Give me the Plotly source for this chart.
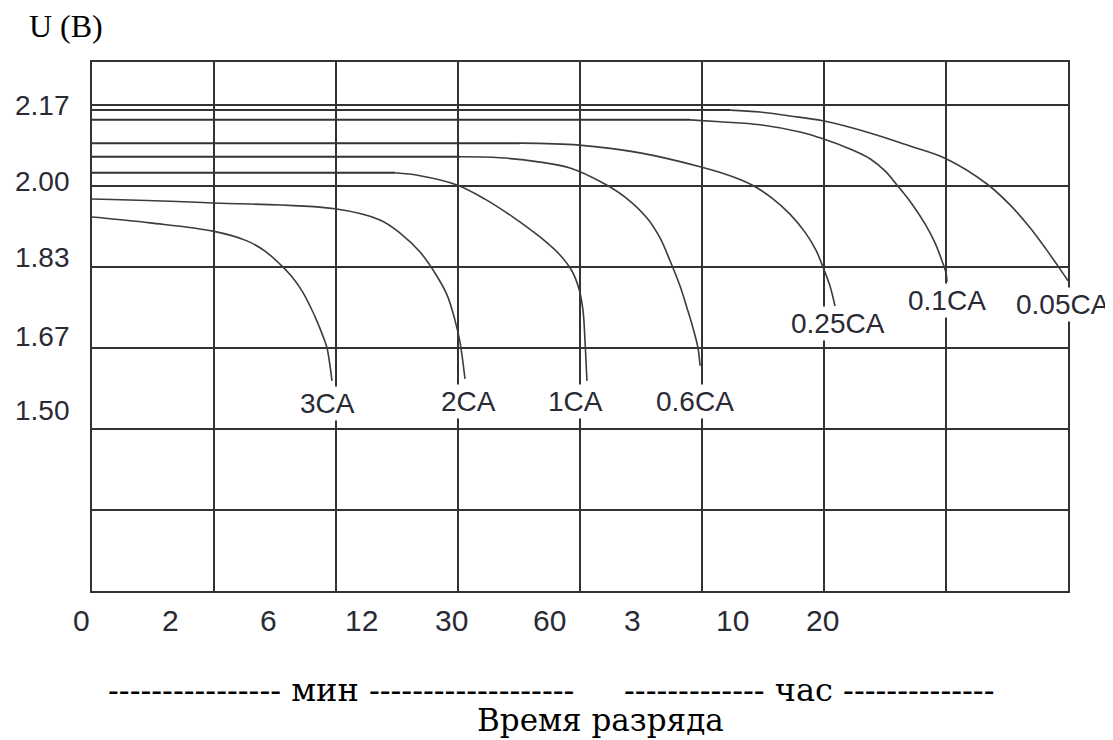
import plotly.graph_objects as go

# ---- data (x in grid-column units of the time scale, y in volts) ----
c005_t = [0, 5.23, 5.475, 5.72, 5.992, 6.377, 6.705, 7.0, 7.336, 7.525, 7.689, 7.820, 7.918, 8.0]
c005_u = [2.156, 2.156, 2.152, 2.144, 2.134, 2.109, 2.082, 2.056, 2.004, 1.961, 1.914, 1.870, 1.835, 1.805]

c01_t = [0, 4.902, 5.148, 5.475, 5.803, 5.992, 6.213, 6.377, 6.5, 6.598, 6.721, 6.828, 6.91, 6.967, 7.0, 7.008]
c01_u = [2.136, 2.136, 2.132, 2.126, 2.111, 2.097, 2.076, 2.056, 2.031, 2.002, 1.963, 1.922, 1.883, 1.846, 1.821, 1.803]

c025_t = [0, 3.508, 3.992, 4.492, 4.992, 5.23, 5.41, 5.574, 5.721, 5.844, 5.934, 5.992, 6.049, 6.09]
c025_u = [2.088, 2.088, 2.084, 2.068, 2.039, 2.021, 2.002, 1.975, 1.942, 1.905, 1.868, 1.833, 1.794, 1.753]

c06_t = [0, 3.016, 3.344, 3.672, 3.918, 4.189, 4.369, 4.549, 4.656, 4.738, 4.82, 4.877, 4.926, 4.967, 4.984]
c06_u = [2.060, 2.060, 2.058, 2.049, 2.037, 2.006, 1.977, 1.934, 1.893, 1.846, 1.794, 1.749, 1.708, 1.667, 1.630]

c1_t = [0, 2.484, 2.689, 2.992, 3.221, 3.451, 3.672, 3.836, 3.934, 3.992, 4.025, 4.041, 4.057]
c1_u = [2.027, 2.027, 2.021, 2.002, 1.973, 1.936, 1.895, 1.858, 1.825, 1.788, 1.743, 1.681, 1.599]

c2_t = [0, 0.992, 1.992, 2.361, 2.525, 2.689, 2.811, 2.91, 2.975, 3.016, 3.057]
c2_u = [1.973, 1.965, 1.953, 1.930, 1.903, 1.864, 1.821, 1.776, 1.724, 1.679, 1.603]

c3_t = [0, 0.475, 0.992, 1.27, 1.418, 1.541, 1.639, 1.721, 1.787, 1.844, 1.893, 1.926, 1.951, 1.967]
c3_u = [1.936, 1.924, 1.907, 1.887, 1.866, 1.839, 1.813, 1.784, 1.753, 1.722, 1.691, 1.667, 1.630, 1.599]

curve_names = ["0.05CA", "0.1CA", "0.25CA", "0.6CA", "1CA", "2CA", "3CA"]
curve_t = [c005_t, c01_t, c025_t, c06_t, c1_t, c2_t, c3_t]
curve_u = [c005_u, c01_u, c025_u, c06_u, c1_u, c2_u, c3_u]
flat_points = [2, 2, 2, 2, 2, 0, 0]   # leading straight segment drawn dark

label_t = [7.959, 7.008, 6.115, 4.943, 3.959, 3.090, 1.934]
label_u = [1.757, 1.765, 1.716, 1.556, 1.556, 1.556, 1.553]

x_tick_text = ["0", "2", "6", "12", "30", "60", "3", "10", "20"]
x_tick_pos = [-0.09, 0.64, 1.45, 2.21, 2.95, 3.75, 4.43, 5.25, 5.99]
X_MAX = 8

y_tick_text = ["2.17", "2.00", "1.83", "1.67", "1.50"]
y_tick_pos = [2.166, 2.010, 1.852, 1.691, 1.537]

fig = go.Figure()

for name, t, u, nf in zip(curve_names, curve_t, curve_u, flat_points):
    if nf:
        fig.add_trace(go.Scatter(x=t[:nf], y=u[:nf], mode="lines",
                                 line=dict(color="#333333", width=2),
                                 showlegend=False, hoverinfo="skip"))
    start = max(nf - 1, 0)
    fig.add_trace(go.Scatter(x=t[start:], y=u[start:], mode="lines", name=name,
                             line=dict(color="#3c3c3c", width=1.6, shape="spline", smoothing=1.0),
                             showlegend=False))

sans = "Liberation Sans, Arial, sans-serif"
serif = "Liberation Serif, Times New Roman, serif"
serif_wide = "DejaVu Serif, serif"

ann = []
for name, t, u in zip(curve_names, label_t, label_u):
    ann.append(dict(x=t, y=u, xref="x", yref="y", text=name, showarrow=False,
                    xanchor="center", yanchor="middle",
                    font=dict(family=sans, size=28, color="#2a2a35"),
                    bgcolor="white", borderpad=1))
for txt, pos in zip(x_tick_text, x_tick_pos):
    ann.append(dict(x=pos / X_MAX, y=0, xref="paper", yref="paper", yshift=-29, text=txt,
                    showarrow=False, yanchor="middle", xanchor="center",
                    font=dict(family=sans, size=30, color="#2a2a35")))
for txt, pos in zip(y_tick_text, y_tick_pos):
    ann.append(dict(x=0, y=pos, xref="paper", yref="y", xshift=-20, text=txt,
                    showarrow=False, xanchor="right", yanchor="middle",
                    font=dict(family=sans, size=28, color="#2a2a35")))

ann.append(dict(x=0.255, y=0, xref="paper", yref="paper", yshift=-99, xanchor="center",
                text="---------------- мин -------------------", showarrow=False,
                yanchor="middle", font=dict(family=serif_wide, size=32, color="black")))
ann.append(dict(x=0.735, y=0, xref="paper", yref="paper", yshift=-99, xanchor="center",
                text="------------- час --------------", showarrow=False,
                yanchor="middle", font=dict(family=serif_wide, size=32, color="black")))
ann.append(dict(x=0.5215, y=0, xref="paper", yref="paper", yshift=-129, xanchor="center",
                text="Время разряда", showarrow=False,
                yanchor="middle", font=dict(family=serif_wide, size=31, color="black")))
ann.append(dict(x=-0.0266, y=1, xref="paper", yref="paper", yshift=36, xanchor="center",
                text="U (B)", showarrow=False,
                yanchor="middle", font=dict(family=serif, size=32, color="black")))

# page body has an 8px margin: figure is sized so the plot lands where the reference has it
fig.update_layout(
    width=1105, height=732,
    margin=dict(l=84, r=45, t=54, b=149),
    paper_bgcolor="white", plot_bgcolor="white",
    annotations=ann,
    xaxis=dict(range=[0, X_MAX], tick0=0, dtick=1, showgrid=True, gridcolor="#333333",
               gridwidth=2, zeroline=False, showticklabels=False, ticks="",
               showline=True, mirror=True, linecolor="#333333", linewidth=2),
    yaxis=dict(range=[7 / 6, 2.255], tick0=2.0, dtick=1 / 6, showgrid=True,
               gridcolor="#333333", gridwidth=2, zeroline=False, showticklabels=False,
               ticks="", showline=True, mirror=True, linecolor="#333333", linewidth=2),
)

fig.write_html("out.html")
